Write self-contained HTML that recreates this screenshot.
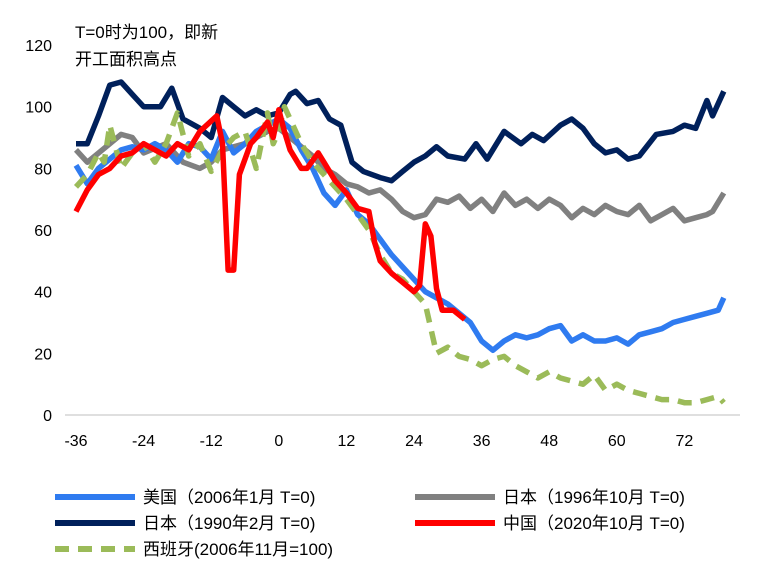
<!DOCTYPE html>
<html><head><meta charset="utf-8"><style>
body{margin:0;background:#fff;}
svg text{font-family:"Liberation Sans","Noto Sans CJK SC",sans-serif;}
</style></head><body>
<svg id="chart" width="757" height="579" xmlns="http://www.w3.org/2000/svg">
<text x="75" y="38" font-size="17" fill="#000">T=0时为100，即新</text>
<text x="75" y="65" font-size="17" fill="#000">开工面积高点</text>
<g id="axes"></g><g id="series"></g><g id="legend"></g>
</svg>
<script>
const xTicks=[-36,-24,-12,0,12,24,36,48,60,72];
const yTicks=[0,20,40,60,80,100,120];
const usX=[-36,-34,-32,-28,-26,-24,-22,-20,-18,-16,-14,-12,-10,-8,-6,-4,-2,0,2,4,6,8,10,12,14,16,18,20,22,24,26,28,30,32,34,36,38,40,42,44,46,48,50,52,54,56,58,60,62,64,66,68,70,72,74,76,78,79];
const usY=[81,75,80,86,87,86,88,86,82,88,87,83,92,85,88,92,94,96,93,86,80,72,68,73,65,62,57,52,48,44,40,38,36,33,30,24,21,24,26,25,26,28,29,24,26,24,24,25,23,26,27,28,30,31,32,33,34,38];
const jp90X=[-36,-34,-32,-30,-28,-26,-24,-21,-19,-17,-14,-12,-10,-8,-6,-4,-2,0,2,3,5,7,9,11,13,15,18,20,22,24,26,28,30,33,35,37,40,43,45,47,50,52,54,56,58,60,62,64,67,70,72,74,76,77,79];
const jp90Y=[88,88,97,107,108,104,100,100,106,96,93,90,103,100,97,99,97,98,104,105,101,102,96,94,82,79,77,76,79,82,84,87,84,83,88,83,92,88,91,89,94,96,93,88,85,86,83,84,91,92,94,93,102,97,105];
const jp96X=[-36,-34,-30,-28,-26,-24,-20,-17,-14,-12,-10,-6,-2,0,2,4,6,8,10,12,14,16,18,20,22,24,26,28,30,32,34,36,38,40,42,44,46,48,50,52,54,56,58,60,62,64,66,68,70,72,74,76,77,79];
const jp96Y=[86,82,88,91,90,85,88,82,80,82,86,88,92,93,90,87,84,80,78,75,74,72,73,70,66,64,65,70,69,71,67,70,66,72,68,70,67,70,68,64,67,65,68,66,65,68,63,65,67,63,64,65,66,72];
const cnX=[-36,-34,-32,-30,-28,-26,-24,-22,-20,-18,-16,-14,-11,-10,-9,-8,-7,-5,-4,-2,-1,0,1,2,4,5,7,8,10,12,14,16,17,18,20,22,24,25,26,27,28,29,31,33];
const cnY=[66,73,78,80,84,85,88,86,84,88,86,92,97,88,47,47,78,88,90,95,90,99,92,86,80,80,85,82,76,72,67,66,56,50,46,43,40,42,62,58,41,34,34,31];
const esX=[-36,-34,-32,-31,-30,-28,-26,-24,-22,-20,-18,-16,-14,-12,-10,-8,-6,-4,-2,-1,0,1,2,4,6,8,10,12,14,16,18,20,22,24,26,28,30,32,34,36,38,40,42,44,46,48,50,52,54,56,58,60,62,64,66,68,70,72,74,76,78,79];
const esY=[74,78,85,82,94,80,85,88,82,88,98,84,88,79,86,90,92,80,98,88,92,100,96,88,82,78,74,70,65,60,52,46,44,40,36,20,22,19,18,16,18,19,16,14,12,14,12,11,10,13,8,10,8,7,6,5,5,4,4,5,6,4];
const X=m=>76+(m+36)*67.6/12;
const Y=v=>415-v*3.083;
const NS="http://www.w3.org/2000/svg";
function mk(tag,attrs,parent){const e=document.createElementNS(NS,tag);for(const k in attrs)e.setAttribute(k,attrs[k]);parent.appendChild(e);return e;}
const axes=document.getElementById('axes');
let ax=mk('line',{x1:65,y1:415,x2:740,y2:415,stroke:'#bfbfbf','stroke-width':1},axes);


xTicks.forEach(t=>{const tx=mk('text',{x:X(t),y:446,'font-size':16,'text-anchor':'middle'},axes);tx.textContent=t;

});
yTicks.forEach(t=>{const tx=mk('text',{x:52,y:Y(t)+6,'font-size':16,'text-anchor':'end'},axes);tx.textContent=t;

});
const sg=document.getElementById('series');
function line(xs,ys,color,name,dash){const d=xs.map((m,i)=>(i?'L':'M')+X(m).toFixed(1)+' '+Y(ys[i]).toFixed(1)).join(' ');
const p=mk('path',{d:d,fill:'none',stroke:color,'stroke-width':5.5,'stroke-linejoin':'round'},sg);
if(dash)p.setAttribute('stroke-dasharray',dash);

}
line(jp96X,jp96Y,'#808080','series-japan-1996');
line(usX,usY,'#2f7bf0','series-us-2006');
line(jp90X,jp90Y,'#00205b','series-japan-1990');
line(esX,esY,'#9bbb59','series-spain-2006','14 9');
line(cnX,cnY,'#ff0000','series-china-2020');
const lg=document.getElementById('legend');
const items=[[55,497,'#2f7bf0','美国（2006年1月 T=0)',null,'legend-us'],[415,497,'#808080','日本（1996年10月 T=0)',null,'legend-japan-1996'],[55,523,'#00205b','日本（1990年2月 T=0)',null,'legend-japan-1990'],[415,523,'#ff0000','中国（2020年10月 T=0)',null,'legend-china'],[55,549,'#9bbb59','西班牙(2006年11月=100)','14 9','legend-spain']];
items.forEach(it=>{const g=mk('g',{},lg);


const l=mk('line',{x1:it[0],y1:it[1],x2:it[0]+80,y2:it[1],stroke:it[2],'stroke-width':6},g);if(it[4])l.setAttribute('stroke-dasharray',it[4]);
const t=mk('text',{x:it[0]+88,y:it[1]+6,'font-size':17},g);t.textContent=it[3];});
</script>
</body></html>
